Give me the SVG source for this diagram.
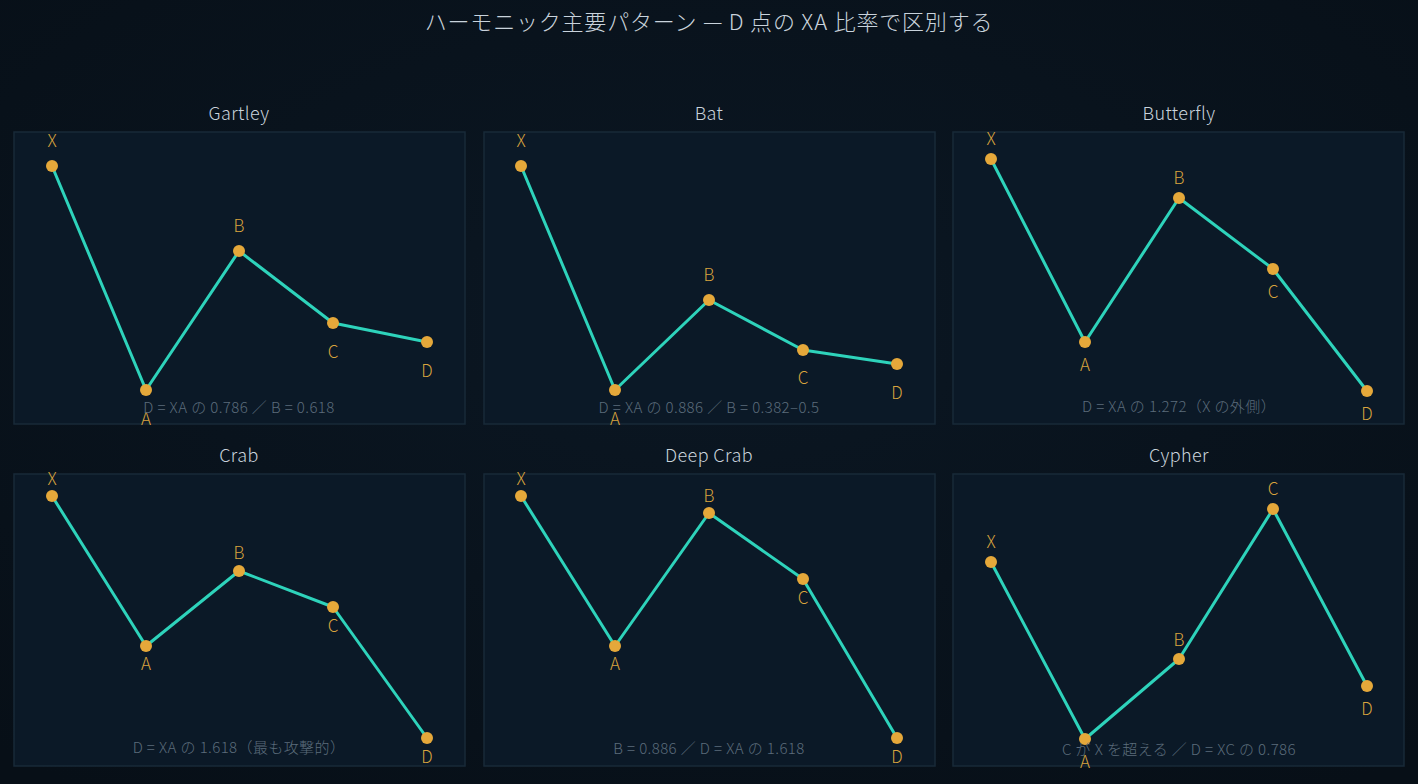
<svg xmlns="http://www.w3.org/2000/svg" width="1418" height="784" viewBox="0 0 1418 784">
<defs>
<radialGradient id="bg" cx="50%" cy="40%" r="75%">
<stop offset="0" stop-color="#0b1723"/>
<stop offset="1" stop-color="#070f17"/>
</radialGradient>
<style>
.title{font-family:"Noto Sans CJK JP","Noto Sans",sans-serif;font-weight:300;font-size:22px;letter-spacing:0.8px;fill:#c9d3dc;text-anchor:middle}
.ptitle{font-family:"Noto Sans CJK JP","Noto Sans",sans-serif;font-weight:300;font-size:18px;letter-spacing:0.4px;fill:#c9d3dc;text-anchor:middle}
.panel{fill:#0b1927;stroke:#182a39;stroke-width:1.5}
.leg{fill:none;stroke:#2ed3bb;stroke-width:3;stroke-linejoin:round;stroke-linecap:round}
.pt{fill:#e5a83a}
.lbl{font-family:"Noto Sans CJK JP","Noto Sans",sans-serif;font-weight:300;font-size:17px;fill:#d9a43e;text-anchor:middle}
.note{font-family:"Noto Sans CJK JP","Noto Sans",sans-serif;font-weight:300;font-size:15px;letter-spacing:0.4px;fill:#5b6c7b;text-anchor:middle}
</style>
</defs>
<rect width="1418" height="784" fill="url(#bg)"/>
<text class="title" x="709" y="30">ハーモニック主要パターン — D 点の XA 比率で区別する</text>

<g id="gartley">
<text class="ptitle" x="239" y="120">Gartley</text>
<rect class="panel" x="14" y="132" width="451" height="292"/>
<polyline class="leg" points="52,166 146,390 239,251 333,323 427,342"/>
<circle class="pt" cx="52" cy="166" r="6"/><circle class="pt" cx="146" cy="390" r="6"/><circle class="pt" cx="239" cy="251" r="6"/><circle class="pt" cx="333" cy="323" r="6"/><circle class="pt" cx="427" cy="342" r="6"/>
<text class="lbl" x="52" y="147">X</text><text class="lbl" x="146" y="425">A</text><text class="lbl" x="239" y="232">B</text><text class="lbl" x="333" y="358">C</text><text class="lbl" x="427" y="377">D</text>
<text class="note" x="239" y="413">D = XA の 0.786 ／ B = 0.618</text>
</g>

<g id="bat">
<text class="ptitle" x="709" y="120">Bat</text>
<rect class="panel" x="484" y="132" width="451" height="292"/>
<polyline class="leg" points="521,166 615,390 709,300 803,350 897,364"/>
<circle class="pt" cx="521" cy="166" r="6"/><circle class="pt" cx="615" cy="390" r="6"/><circle class="pt" cx="709" cy="300" r="6"/><circle class="pt" cx="803" cy="350" r="6"/><circle class="pt" cx="897" cy="364" r="6"/>
<text class="lbl" x="521" y="147">X</text><text class="lbl" x="615" y="425">A</text><text class="lbl" x="709" y="281">B</text><text class="lbl" x="803" y="384">C</text><text class="lbl" x="897" y="399">D</text>
<text class="note" x="709" y="413">D = XA の 0.886 ／ B = 0.382–0.5</text>
</g>

<g id="butterfly">
<text class="ptitle" x="1179" y="120">Butterfly</text>
<rect class="panel" x="953" y="132" width="451" height="292"/>
<polyline class="leg" points="991,159 1085,342 1179,198 1273,269 1367,391"/>
<circle class="pt" cx="991" cy="159" r="6"/><circle class="pt" cx="1085" cy="342" r="6"/><circle class="pt" cx="1179" cy="198" r="6"/><circle class="pt" cx="1273" cy="269" r="6"/><circle class="pt" cx="1367" cy="391" r="6"/>
<text class="lbl" x="991" y="145">X</text><text class="lbl" x="1085" y="371">A</text><text class="lbl" x="1179" y="184">B</text><text class="lbl" x="1273" y="298">C</text><text class="lbl" x="1367" y="420">D</text>
<text class="note" x="1179" y="412">D = XA の 1.272（X の外側）</text>
</g>

<g id="crab">
<text class="ptitle" x="239" y="462">Crab</text>
<rect class="panel" x="14" y="474" width="451" height="292"/>
<polyline class="leg" points="52,496 146,646 239,571 333,607 427,738"/>
<circle class="pt" cx="52" cy="496" r="6"/><circle class="pt" cx="146" cy="646" r="6"/><circle class="pt" cx="239" cy="571" r="6"/><circle class="pt" cx="333" cy="607" r="6"/><circle class="pt" cx="427" cy="738" r="6"/>
<text class="lbl" x="52" y="485">X</text><text class="lbl" x="146" y="670">A</text><text class="lbl" x="239" y="559">B</text><text class="lbl" x="333" y="632">C</text><text class="lbl" x="427" y="763">D</text>
<text class="note" x="239" y="753">D = XA の 1.618（最も攻撃的）</text>
</g>

<g id="deepcrab">
<text class="ptitle" x="709" y="462">Deep Crab</text>
<rect class="panel" x="484" y="474" width="451" height="292"/>
<polyline class="leg" points="521,496 615,646 709,513 803,579 897,738"/>
<circle class="pt" cx="521" cy="496" r="6"/><circle class="pt" cx="615" cy="646" r="6"/><circle class="pt" cx="709" cy="513" r="6"/><circle class="pt" cx="803" cy="579" r="6"/><circle class="pt" cx="897" cy="738" r="6"/>
<text class="lbl" x="521" y="485">X</text><text class="lbl" x="615" y="670">A</text><text class="lbl" x="709" y="502">B</text><text class="lbl" x="803" y="604">C</text><text class="lbl" x="897" y="763">D</text>
<text class="note" x="709" y="754">B = 0.886 ／ D = XA の 1.618</text>
</g>

<g id="cypher">
<text class="ptitle" x="1179" y="462">Cypher</text>
<rect class="panel" x="953" y="474" width="451" height="292"/>
<polyline class="leg" points="991,562 1085,739 1179,659 1273,509 1367,686"/>
<circle class="pt" cx="991" cy="562" r="6"/><circle class="pt" cx="1085" cy="739" r="6"/><circle class="pt" cx="1179" cy="659" r="6"/><circle class="pt" cx="1273" cy="509" r="6"/><circle class="pt" cx="1367" cy="686" r="6"/>
<text class="lbl" x="991" y="548">X</text><text class="lbl" x="1085" y="768">A</text><text class="lbl" x="1179" y="646">B</text><text class="lbl" x="1273" y="495">C</text><text class="lbl" x="1367" y="715">D</text>
<text class="note" x="1179" y="755">C が X を超える ／ D = XC の 0.786</text>
</g>
</svg>
